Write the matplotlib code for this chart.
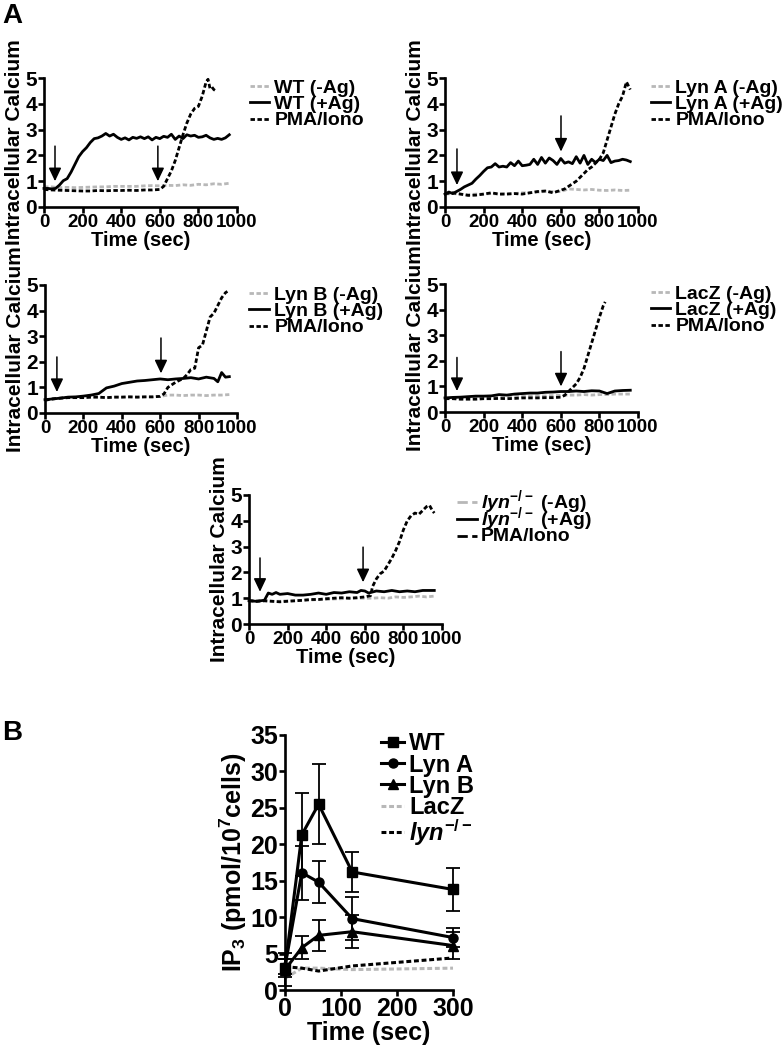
import matplotlib
matplotlib.use('Agg')
import matplotlib.pyplot as plt

plt.rcParams['font.family'] = ['Liberation Sans', 'DejaVu Sans']
plt.rcParams['font.weight'] = 'bold'
plt.rcParams['axes.labelweight'] = 'bold'
plt.rcParams['mathtext.fontset'] = 'custom'
plt.rcParams['mathtext.rm'] = 'Liberation Sans:bold'
plt.rcParams['mathtext.it'] = 'Liberation Sans:italic:bold'
plt.rcParams['mathtext.default'] = 'rm'

# ---------------- data: panel A (intracellular calcium traces) ----------------
t40 = list(range(0, 961, 40))  # sampling grid of the -Ag traces

# WT
wt_neg = [0.78, 0.78, 0.75, 0.76, 0.75, 0.76, 0.77, 0.78, 0.78, 0.80, 0.80, 0.80, 0.80,
          0.82, 0.83, 0.82, 0.84, 0.83, 0.86, 0.84, 0.88, 0.86, 0.90, 0.88, 0.92]
wt_pos_t = list(range(0, 961, 20))
wt_pos = [0.72, 0.72, 0.70, 0.72, 0.85, 1.02, 1.10, 1.35, 1.65, 1.95, 2.15, 2.30, 2.50,
          2.65, 2.68, 2.75, 2.85, 2.75, 2.82, 2.70, 2.62, 2.68, 2.60, 2.70, 2.66, 2.72,
          2.65, 2.72, 2.60, 2.70, 2.65, 2.74, 2.70, 2.82, 2.62, 2.75, 2.65, 2.80, 2.75,
          2.78, 2.70, 2.72, 2.78, 2.68, 2.62, 2.66, 2.62, 2.68, 2.80]
wt_pma_t = [0, 40, 80, 120, 160, 200, 240, 280, 320, 360, 400, 440, 480, 520, 560, 600,
            620, 640, 660, 680, 700, 720, 740, 760, 780, 800, 820, 840, 850, 860, 870, 880, 890]
wt_pma = [0.68, 0.66, 0.65, 0.64, 0.63, 0.62, 0.62, 0.64, 0.63, 0.64, 0.64, 0.65, 0.64,
          0.66, 0.66, 0.68, 0.80, 1.10, 1.40, 1.80, 2.30, 2.80, 3.25, 3.60, 3.82, 3.90,
          4.30, 4.85, 4.95, 4.60, 4.65, 4.55, 4.50]

# Lyn A
lyna_neg = [0.50, 0.52, 0.50, 0.48, 0.50, 0.50, 0.52, 0.50, 0.52, 0.52, 0.55, 0.55, 0.58,
            0.60, 0.60, 0.60, 0.70, 0.68, 0.66, 0.68, 0.65, 0.64, 0.66, 0.64, 0.65]
lyna_pos_t = list(range(0, 961, 20))
lyna_pos = [0.50, 0.58, 0.52, 0.60, 0.68, 0.78, 0.85, 0.92, 1.08, 1.22, 1.38, 1.52, 1.55,
            1.68, 1.55, 1.58, 1.55, 1.72, 1.60, 1.78, 1.60, 1.62, 1.65, 1.85, 1.65, 1.92,
            1.70, 1.90, 1.80, 1.65, 1.88, 1.70, 1.75, 1.68, 1.95, 1.70, 2.00, 1.65, 1.85,
            1.72, 1.85, 1.80, 2.00, 1.72, 1.78, 1.80, 1.85, 1.82, 1.76]
lyna_pma_t = [0, 40, 80, 120, 160, 200, 240, 280, 320, 360, 400, 440, 480, 520, 560, 600,
              620, 640, 660, 680, 700, 720, 740, 760, 780, 800, 820, 840, 860, 880, 900,
              920, 940, 960]
lyna_pma = [0.52, 0.55, 0.50, 0.45, 0.46, 0.50, 0.55, 0.50, 0.50, 0.52, 0.50, 0.55, 0.60,
            0.62, 0.55, 0.65, 0.70, 0.80, 0.90, 1.00, 1.15, 1.30, 1.45, 1.55, 1.70, 1.85,
            2.10, 2.60, 3.10, 3.60, 4.00, 4.30, 4.85, 4.55]

# Lyn B
lynb_neg = [0.50, 0.55, 0.58, 0.60, 0.60, 0.60, 0.62, 0.62, 0.60, 0.62, 0.62, 0.63, 0.62,
            0.63, 0.63, 0.65, 0.70, 0.70, 0.68, 0.70, 0.70, 0.68, 0.70, 0.70, 0.72]
lynb_pos_t = [0, 40, 80, 120, 160, 200, 240, 280, 320, 360, 400, 440, 480, 520, 560, 600,
              640, 680, 720, 760, 800, 840, 880, 900, 920, 940, 960]
lynb_pos = [0.52, 0.55, 0.58, 0.62, 0.63, 0.66, 0.70, 0.76, 0.98, 1.05, 1.15, 1.20, 1.25,
            1.27, 1.30, 1.33, 1.30, 1.33, 1.35, 1.38, 1.33, 1.40, 1.35, 1.22, 1.58, 1.40, 1.42]
lynb_pma_t = [0, 40, 80, 120, 160, 200, 240, 280, 320, 360, 400, 440, 480, 520, 560, 600,
              620, 640, 680, 720, 740, 760, 780, 800, 820, 840, 860, 880, 900, 920, 940, 950]
lynb_pma = [0.50, 0.55, 0.58, 0.60, 0.60, 0.60, 0.62, 0.62, 0.60, 0.62, 0.62, 0.63, 0.62,
            0.63, 0.63, 0.65, 0.75, 1.00, 1.20, 1.35, 1.50, 1.70, 1.75, 2.55, 2.65, 3.20,
            3.75, 3.90, 4.20, 4.50, 4.70, 4.75]

# LacZ
lacz_neg = [0.52, 0.55, 0.55, 0.57, 0.58, 0.58, 0.60, 0.60, 0.60, 0.62, 0.62, 0.62, 0.63,
            0.63, 0.64, 0.65, 0.66, 0.66, 0.68, 0.66, 0.68, 0.68, 0.70, 0.70, 0.70]
lacz_pos_t = t40
lacz_pos = [0.55, 0.57, 0.58, 0.60, 0.62, 0.62, 0.63, 0.68, 0.66, 0.70, 0.72, 0.74, 0.74,
            0.77, 0.78, 0.80, 0.80, 0.82, 0.80, 0.83, 0.82, 0.72, 0.82, 0.84, 0.85]
lacz_pma_t = [0, 40, 80, 120, 160, 200, 240, 280, 320, 360, 400, 440, 480, 520, 560, 600,
              620, 640, 660, 680, 700, 720, 740, 760, 780, 800, 820, 830]
lacz_pma = [0.52, 0.52, 0.50, 0.50, 0.50, 0.52, 0.52, 0.53, 0.52, 0.53, 0.55, 0.55, 0.55,
            0.56, 0.56, 0.58, 0.65, 0.80, 0.95, 1.10, 1.35, 1.70, 2.20, 2.70, 3.20, 3.70,
            4.15, 4.30]

# lyn-/-
lyn_neg = [0.92, 0.90, 0.90, 0.88, 0.88, 0.90, 0.90, 0.92, 0.93, 0.95, 0.95, 0.97, 0.98,
           1.00, 1.00, 1.00, 1.00, 1.02, 1.00, 1.05, 1.03, 1.05, 1.08, 1.05, 1.08]
lyn_pos_t = [0, 40, 80, 100, 120, 140, 160, 200, 240, 280, 320, 360, 400, 440, 480, 520,
             560, 580, 600, 620, 660, 700, 740, 780, 820, 860, 900, 940, 960]
lyn_pos = [0.90, 0.88, 0.92, 1.20, 1.15, 1.22, 1.15, 1.18, 1.12, 1.12, 1.15, 1.20, 1.15,
           1.22, 1.20, 1.25, 1.22, 1.30, 1.28, 1.20, 1.28, 1.25, 1.30, 1.25, 1.28, 1.25,
           1.30, 1.30, 1.30]
lyn_pma_t = [0, 40, 80, 120, 160, 200, 240, 280, 320, 360, 400, 440, 480, 520, 560, 600,
             630, 640, 660, 680, 700, 720, 740, 760, 780, 800, 820, 840, 860, 880, 900,
             920, 935, 950, 960]
lyn_pma = [0.90, 0.88, 0.90, 0.88, 0.86, 0.88, 0.90, 0.92, 0.95, 0.95, 0.98, 1.00, 1.02,
           1.00, 1.02, 1.05, 1.10, 1.45, 1.75, 1.95, 2.05, 2.30, 2.55, 2.85, 3.20, 3.65,
           4.00, 4.20, 4.30, 4.25, 4.40, 4.55, 4.60, 4.40, 4.30]

# arrows: (time, top, tip) for antigen and PMA/Iono additions
wt_arrows = [(57, 2.36, 1.0), (590, 2.36, 1.0)]
lyna_arrows = [(62, 2.25, 0.85), (601, 3.53, 2.15)]
lynb_arrows = [(62, 2.19, 0.82), (604, 2.93, 1.55)]
lacz_arrows = [(62, 2.13, 0.82), (601, 2.36, 1.0)]
lyn_arrows = [(57, 2.56, 1.25), (591, 2.98, 1.62)]

# ---------------- data: panel B (IP3) ----------------
ip3_time = [0, 30, 60, 120, 300]
wt_ip3 = [3.0, 21.3, 25.5, 16.2, 13.8]
wt_err = [1.2, 5.7, 5.5, 2.7, 2.9]
lyna_ip3 = [3.2, 16.1, 14.8, 9.8, 7.2]
lyna_err = [1.0, 3.7, 2.9, 3.0, 1.3]
lynb_ip3 = [2.8, 5.8, 7.5, 8.0, 6.1]
lynb_err = [2.3, 1.6, 2.1, 2.3, 1.8]
lacz_ip3 = [1.6, 3.0, 3.0, 2.8, 3.0]
lyn_ip3 = [3.2, 3.0, 2.6, 3.3, 4.4]

GRAY = '#b8b8b8'
DASH = (0, (1.6, 0.9))
LW = 2.0
W, H = 783, 1050

fig = plt.figure(figsize=(W / 100, H / 100), dpi=100)


def px_rect(left, top, right, bottom):
    return [left / W, 1 - bottom / H, (right - left) / W, (bottom - top) / H]


def style_axes(ax, xsize, ysize):
    for s in ['top', 'right']:
        ax.spines[s].set_visible(False)
    for s in ['left', 'bottom']:
        ax.spines[s].set_linewidth(1.9)
    ax.tick_params(direction='out', length=4, width=1.9, pad=1)
    ax.tick_params(axis='x', labelsize=xsize)
    ax.tick_params(axis='y', labelsize=ysize)
    for lab in ax.get_xticklabels() + ax.get_yticklabels():
        lab.set_fontweight('bold')


def calcium_panel(rect, neg, pos_t, pos, pma_t, pma, arrows, name, manual_key=False):
    ax = fig.add_axes(px_rect(*rect))
    ax.plot(t40, neg, color=GRAY, lw=LW, ls=DASH, label=name + ' (-Ag)', clip_on=False)
    ax.plot(pos_t, pos, color='black', lw=LW, label=name + ' (+Ag)', clip_on=False)
    ax.plot(pma_t, pma, color='black', lw=LW, ls=DASH, label='PMA/Iono', clip_on=False)
    for t, top, tip in arrows:
        ax.annotate('', xy=(t, tip), xytext=(t, top),
                    arrowprops=dict(arrowstyle='-|>,head_length=0.8,head_width=0.38',
                                    lw=1.1, color='black', shrinkA=0, shrinkB=0,
                                    mutation_scale=10))
    ax.set_xlim(0, 1000)
    ax.set_ylim(0, 5)
    ax.set_xticks([0, 200, 400, 600, 800, 1000])
    ax.set_yticks([0, 1, 2, 3, 4, 5])
    style_axes(ax, 13.5, 15)
    ax.set_xlabel('Time (sec)', fontsize=14.5, labelpad=0)
    ax.set_ylabel('Intracellular Calcium', fontsize=15, labelpad=1)
    if not manual_key:
        ax.legend(loc='upper left', bbox_to_anchor=(1.065, 0.99), frameon=False,
                  fontsize=14, handlelength=1.0, handletextpad=0.28, labelspacing=-0.07,
                  borderpad=0, borderaxespad=0)
    else:
        # hand-built key so the rows with superscripts stay evenly spaced
        rows = [0.946, 0.815, 0.682]
        for line, y in zip(ax.get_lines(), rows):
            ax.plot([1.078, 1.181], [y, y], transform=ax.transAxes, clip_on=False,
                    color=line.get_color(), lw=LW, ls=line.get_linestyle())
            ax.text(1.2, y, line.get_label(), transform=ax.transAxes, fontsize=14,
                    va='center', ha='left')
    return ax


calcium_panel((44, 78, 237, 207), wt_neg, wt_pos_t, wt_pos, wt_pma_t, wt_pma, wt_arrows, 'WT')
calcium_panel((445, 78, 638, 207), lyna_neg, lyna_pos_t, lyna_pos, lyna_pma_t, lyna_pma,
              lyna_arrows, 'Lyn A')
calcium_panel((45, 285, 237, 413), lynb_neg, lynb_pos_t, lynb_pos, lynb_pma_t, lynb_pma,
              lynb_arrows, 'Lyn B')
calcium_panel((445, 284, 638, 412), lacz_neg, lacz_pos_t, lacz_pos, lacz_pma_t, lacz_pma,
              lacz_arrows, 'LacZ')
calcium_panel((249, 495, 442, 624), lyn_neg, lyn_pos_t, lyn_pos, lyn_pma_t, lyn_pma,
              lyn_arrows, r'$\it{lyn}^{-/-}$', manual_key=True)

# ---------------- panel B ----------------
axb = fig.add_axes(px_rect(285, 735, 453, 990))
axb.plot(ip3_time, lacz_ip3, color=GRAY, lw=2.2, ls=DASH, label='LacZ', clip_on=False)
axb.plot(ip3_time, lyn_ip3, color='black', lw=2.2, ls=DASH, label=r'$\it{lyn}^{-/-}$',
         clip_on=False)
ekw = dict(fmt='none', ecolor='black', elinewidth=1.3, capsize=5, capthick=1.3,
           clip_on=False)
axb.errorbar(ip3_time, wt_ip3, yerr=wt_err, **ekw)
axb.errorbar(ip3_time, lyna_ip3, yerr=lyna_err, **ekw)
axb.errorbar(ip3_time, lynb_ip3, yerr=lynb_err, **ekw)
mkw = dict(color='black', lw=2.2, ms=6.5, clip_on=False)
axb.plot(ip3_time, wt_ip3, marker='s', label='WT', **mkw)
axb.plot(ip3_time, lyna_ip3, marker='o', label='Lyn A', **mkw)
axb.plot(ip3_time, lynb_ip3, marker='^', label='Lyn B', **mkw)
axb.set_xlim(0, 300)
axb.set_ylim(0, 35)
axb.set_xticks([0, 100, 200, 300])
axb.set_yticks([0, 5, 10, 15, 20, 25, 30, 35])
style_axes(axb, 18, 18)
axb.set_xlabel('Time (sec)', fontsize=18, labelpad=0)
axb.set_ylabel(r'IP$_3$ (pmol/10$^7$cells)', fontsize=18, labelpad=1)
handles, labels = axb.get_legend_handles_labels()
order = [2, 3, 4, 0, 1]
axb.legend([handles[i] for i in order], [labels[i] for i in order],
           loc='upper left', bbox_to_anchor=(0.57, 1.01), frameon=False, fontsize=17,
           handlelength=1.0, handletextpad=0.2, labelspacing=-0.08, borderpad=0,
           borderaxespad=0)

fig.text(2 / W, 1 - 3 / H, 'A', fontsize=20, fontweight='bold', va='top', ha='left')
fig.text(2 / W, 1 - 720 / H, 'B', fontsize=20, fontweight='bold', va='top', ha='left')

fig.savefig('out.png', dpi=100)
